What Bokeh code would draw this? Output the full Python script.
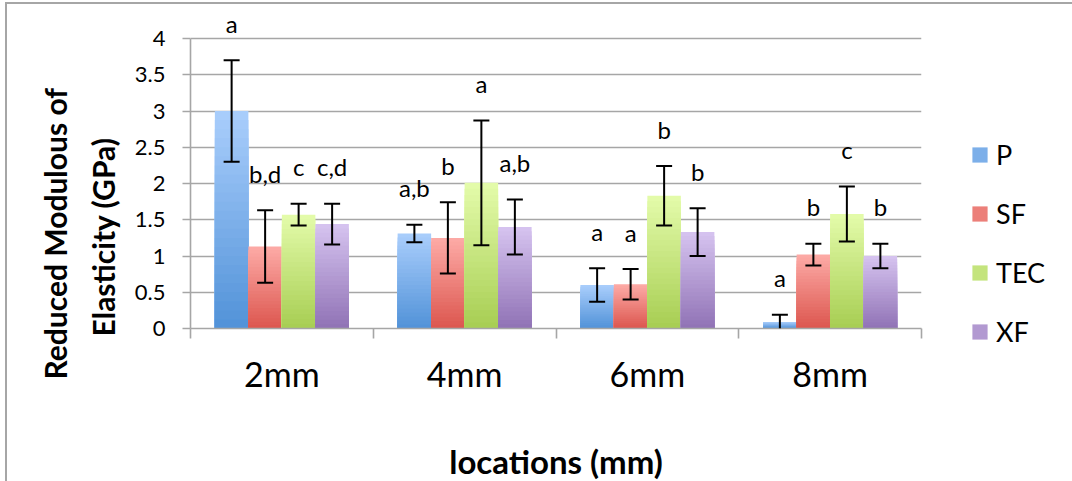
from bokeh.plotting import figure
from bokeh.models import (ColumnDataSource, Range1d, FixedTicker, LinearAxis, Whisker,
                          TeeHead, Legend, LegendItem, NumeralTickFormatter, Title)
from bokeh.core.properties import value
from bokeh.embed import file_html
from bokeh.resources import INLINE

# ---------------- data ----------------
categories = ["2mm", "4mm", "6mm", "8mm"]
series = ["P", "SF", "TEC", "XF"]

P_vals = [3.00, 1.31, 0.60, 0.09]
P_err = [0.70, 0.12, 0.23, 0.10]
SF_vals = [1.13, 1.25, 0.61, 1.02]
SF_err = [0.50, 0.49, 0.21, 0.15]
TEC_vals = [1.57, 2.01, 1.83, 1.58]
TEC_err = [0.15, 0.86, 0.41, 0.38]
XF_vals = [1.44, 1.40, 1.33, 1.00]
XF_err = [0.28, 0.38, 0.33, 0.17]

P_letters = ["a", "a,b", "a", "a"]
SF_letters = ["b,d", "b", "a", "b"]
TEC_letters = ["c", "a", "b", "c"]
XF_letters = ["c,d", "a,b", "b", "b"]

y_ticks = [0, 0.5, 1, 1.5, 2, 2.5, 3, 3.5, 4]

y_title_lines = ["Reduced Modulous of", "Elasticity (GPa)"]
x_title = "locations (mm)"

values = {"P": P_vals, "SF": SF_vals, "TEC": TEC_vals, "XF": XF_vals}
errors = {"P": P_err, "SF": SF_err, "TEC": TEC_err, "XF": XF_err}
letters = {"P": P_letters, "SF": SF_letters, "TEC": TEC_letters, "XF": XF_letters}

# gradient colours (top, bottom) per series
grad = {
    "P": ("#aacefc", "#5192d8"),
    "SF": ("#fdaba7", "#dc564e"),
    "TEC": ("#e4fcab", "#a7cd52"),
    "XF": ("#d6c4f0", "#9072b5"),
}

FONT = "Lato"
GRAY = "#a6a6a6"
bar_w = 0.1833
offsets = [-1.5 * bar_w, -0.5 * bar_w, 0.5 * bar_w, 1.5 * bar_w]
N = 24
Y_TOP = 4.4


def hex2rgb(h):
    h = h.lstrip("#")
    return tuple(int(h[i:i + 2], 16) for i in (0, 2, 4))


def mix(c1, c2, t):
    a, b = hex2rgb(c1), hex2rgb(c2)
    return "#%02x%02x%02x" % tuple(int(round(a[i] + (b[i] - a[i]) * t)) for i in range(3))


p = figure(frame_width=731, frame_height=319, x_range=Range1d(0, 4), y_range=Range1d(0, Y_TOP),
           output_backend="svg", toolbar_location=None, x_axis_type=None,
           min_border_left=183, min_border_right=140, min_border_top=5, min_border_bottom=140)
p.outline_line_color = None
p.background_fill_color = "white"
p.border_fill_color = "white"
p.styles = {"margin-left": "5px", "margin-top": "2px",
            "border-left": "2px solid #a6a6a6", "border-top": "2px solid #a6a6a6"}

# grid
p.ygrid.ticker = FixedTicker(ticks=y_ticks)
p.ygrid.grid_line_color = GRAY
p.ygrid.grid_line_width = 1.6

# y axis
yax = p.yaxis[0]
yax.ticker = FixedTicker(ticks=y_ticks)
yax.bounds = (0, 4)
yax.formatter = NumeralTickFormatter(format="0.[0]")
yax.axis_line_color = GRAY
yax.axis_line_width = 1.6
yax.major_tick_line_color = GRAY
yax.major_tick_line_width = 1.6
yax.major_tick_out = 8
yax.major_tick_in = 0
yax.minor_tick_line_color = None
yax.major_label_text_font = FONT
yax.major_label_text_font_size = "22px"
yax.major_label_text_color = "black"
yax.major_label_standoff = 17

# y-axis title as two rotated lines (line 2 nearest the axis)
t2 = Title(text=y_title_lines[1], align="left", vertical_align="middle", offset=-8,
           standoff=20, text_font=FONT, text_font_size="30px", text_font_style="bold",
           text_color="black")
t1 = Title(text=y_title_lines[0], align="left", vertical_align="middle", offset=-51,
           standoff=0, text_font=FONT, text_font_size="30px", text_font_style="bold",
           text_color="black")
p.add_layout(t2, "left")
p.add_layout(t1, "left")

# x axis: category labels at centres, boundary ticks as minor ticks
cat_pos = [i + 0.5 for i in range(len(categories))]
xax = LinearAxis(ticker=FixedTicker(ticks=cat_pos, minor_ticks=[0, 1, 2, 3, 4]),
                 major_label_overrides={c: lab for c, lab in zip(cat_pos, categories)},
                 axis_line_color=GRAY, axis_line_width=1.6,
                 major_tick_line_color=None, major_tick_out=0, major_tick_in=0,
                 minor_tick_line_color=GRAY, minor_tick_line_width=1.6,
                 minor_tick_out=10, minor_tick_in=0,
                 major_label_text_font=FONT, major_label_text_font_size="34px",
                 major_label_text_color="black", major_label_standoff=14,
                 axis_label=x_title, axis_label_text_font=FONT,
                 axis_label_text_font_size="33px", axis_label_text_font_style="bold",
                 axis_label_text_color="black", axis_label_standoff=44)
p.add_layout(xax, "below")

legend_items = []
for si, s in enumerate(series):
    vals = values[s]
    errs = errors[s]
    xs = [i + 0.5 + offsets[si] for i in range(len(categories))]
    top_c, bot_c = grad[s]
    # gradient bars: overlapping slices from 0, tallest (lightest) first
    bx, btop, bcol = [], [], []
    for k in range(N):
        frac = 1 - k / N
        col = mix(top_c, bot_c, (k + 0.5) / N)
        for x, v in zip(xs, vals):
            bx.append(x)
            btop.append(v * frac)
            bcol.append(col)
    src = ColumnDataSource(dict(x=bx, top=btop, color=bcol))
    r = p.vbar(x="x", top="top", bottom=0, width=bar_w, fill_color="color",
               line_color=None, source=src)
    legend_items.append(LegendItem(label=s, renderers=[r], index=(N // 2) * len(vals)))

    upper = [v + e for v, e in zip(vals, errs)]
    lower = [v - e for v, e in zip(vals, errs)]
    full = [i for i in range(len(vals)) if lower[i] >= 0]
    part = [i for i in range(len(vals)) if lower[i] < 0]
    if full:
        wsrc = ColumnDataSource(dict(base=[xs[i] for i in full], upper=[upper[i] for i in full],
                                     lower=[lower[i] for i in full]))
        p.add_layout(Whisker(base="base", upper="upper", lower="lower", source=wsrc,
                             dimension="height", line_color="black", line_width=2,
                             level="overlay",
                             upper_head=TeeHead(size=16, line_color="black", line_width=2),
                             lower_head=TeeHead(size=16, line_color="black", line_width=2)))
    if part:
        wsrc2 = ColumnDataSource(dict(base=[xs[i] for i in part], upper=[upper[i] for i in part],
                                      lower=[0 for i in part]))
        p.add_layout(Whisker(base="base", upper="upper", lower="lower", source=wsrc2,
                             dimension="height", line_color="black", line_width=2,
                             level="overlay",
                             upper_head=TeeHead(size=16, line_color="black", line_width=2),
                             lower_head=None))

    tsrc = ColumnDataSource(dict(x=xs, y=upper, t=letters[s]))
    p.text(x="x", y="y", text="t", source=tsrc, y_offset=-37, text_align="center",
           text_baseline="middle", text_font=value(FONT), text_font_size="24px",
           text_color="black")

legend = Legend(items=legend_items, location=(49, -20), orientation="vertical",
                padding=0, margin=0, border_line_color=None, background_fill_alpha=0,
                glyph_width=19, glyph_height=19, label_standoff=7, label_height=30,
                spacing=26, label_text_font=FONT, label_text_font_size="27px",
                label_text_color="black")
p.add_layout(legend, "right")

open("out.html", "w").write(file_html(p, INLINE))
